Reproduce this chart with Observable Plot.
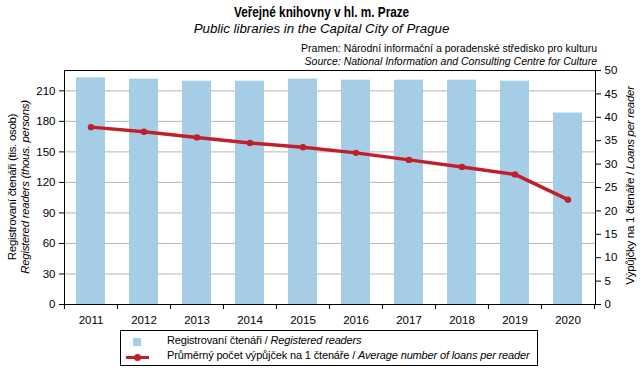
<!DOCTYPE html>
<html>
<head>
<meta charset="utf-8">
<script src="https://cdn.jsdelivr.net/npm/d3@7"></script>
<script src="https://cdn.jsdelivr.net/npm/@observablehq/plot@0.6"></script>
<style>
  body { margin: 0; background: #fff; }
  #wrap { position: relative; width: 643px; height: 375px; font-family: "Liberation Sans", Arial, sans-serif; color: #000; }
  #wrap .t { position: absolute; white-space: nowrap; }
  .rot { position: absolute; white-space: nowrap; transform-origin: center center; }
</style>
</head>
<body>
<div id="wrap"></div>
<script>
const years = [2011, 2012, 2013, 2014, 2015, 2016, 2017, 2018, 2019, 2020];
const readers = [222.8, 221.5, 219.5, 219.5, 221.5, 220.5, 220.5, 220.5, 219.5, 188.2];
const loans = [37.9, 36.9, 35.7, 34.5, 33.6, 32.4, 30.9, 29.4, 27.8, 22.4];
const leftTicks = [0, 30, 60, 90, 120, 150, 180, 210];
const rightTicks = [0, 5, 10, 15, 20, 25, 30, 35, 40, 45, 50];

const leftMax = 230, rightMax = 50;
const k = leftMax / rightMax;
const data = years.map((y, i) => ({year: String(y), readers: readers[i], loans: loans[i]}));

const W = 643, H = 375, mL = 64, mR = 48, mT = 70, mB = 71;
const step = (W - mL - mR) / years.length;

const chart = Plot.plot({
  width: W, height: H,
  marginLeft: mL, marginRight: mR, marginTop: mT, marginBottom: mB,
  style: {fontFamily: '"Liberation Sans", Arial, sans-serif', fontSize: "11px", color: "#000", background: "transparent", overflow: "visible"},
  x: {type: "band", domain: years.map(String), paddingInner: 0.45, paddingOuter: 0.225},
  y: {domain: [0, leftMax]},
  marks: [
    Plot.gridY(leftTicks.filter(d => d > 0), {stroke: "#b4b4b4", strokeOpacity: 1}),
    Plot.barY(data, {x: "year", y: "readers", fill: "#a6cde6"}),
    Plot.lineY(data, {x: "year", y: d => d.loans * k, stroke: "#c0202a", strokeWidth: 3.5}),
    Plot.dot(data, {x: "year", y: d => d.loans * k, fill: "#c0202a", r: 3.2}),
    Plot.frame({stroke: "#000"}),
    Plot.axisY(leftTicks, {anchor: "left", tickSize: 5, tickPadding: 4, label: null, fontSize: 11.5}),
    Plot.axisY(rightTicks.map(d => d * k), {anchor: "right", tickSize: 5, tickPadding: 4, label: null, fontSize: 11.5, tickFormat: d => String(Math.round(d / k))}),
    Plot.axisX(years.map(String), {tickSize: 0, tickPadding: 11, label: null, fontSize: 11.5}),
    Plot.ruleX(years.map(String), {x: d => d, y1: 0, y2: 0, insetBottom: -5, dx: -step / 2, stroke: "#000"}),
    Plot.ruleX([years[years.length - 1]].map(String), {x: d => d, y1: 0, y2: 0, insetBottom: -5, dx: step / 2, stroke: "#000"})
  ]
});

const wrap = document.getElementById("wrap");
chart.style.position = "absolute";
chart.style.left = "0px";
chart.style.top = "0px";
wrap.appendChild(chart);

function addText(html, css) {
  const d = document.createElement("div");
  d.className = "t";
  d.innerHTML = html;
  Object.assign(d.style, css);
  wrap.appendChild(d);
  return d;
}

// Titles
addText("Veřejné knihovny v hl. m. Praze", {left: "0px", width: "643px", textAlign: "center", top: "4px", fontSize: "14px", fontWeight: "bold", transform: "scaleX(0.84)", transformOrigin: "322px 50%"});
addText("<i>Public libraries in the Capital City of Prague</i>", {left: "0px", width: "643px", textAlign: "center", top: "21px", fontSize: "13.3px"});
addText("Pramen: Národní informační a poradenské středisko pro kulturu", {right: "46px", top: "42px", fontSize: "10.5px", textAlign: "right"});
addText("<i>Source: National Information and Consulting Centre for Culture</i>", {right: "46px", top: "55px", fontSize: "10.5px", textAlign: "right"});

// Rotated axis labels
function addRot(html, cx, cy, css) {
  const d = document.createElement("div");
  d.className = "rot";
  d.innerHTML = html;
  Object.assign(d.style, {fontSize: "11.5px", lineHeight: "13px", textAlign: "center", letterSpacing: "-0.3px"}, css || {});
  wrap.appendChild(d);
  const r = d.getBoundingClientRect();
  d.style.left = (cx - r.width / 2) + "px";
  d.style.top = (cy - r.height / 2) + "px";
  d.style.transform = "rotate(-90deg)";
  return d;
}
addRot("Registrovaní čtenáři (tis. osob)<br><i>Registered readers (thous. persons)</i>", 19, 187);
addRot("Výpůjčky na 1 čtenáře / <i>Loans per reader</i>", 630, 185);

// Legend
const leg = document.createElement("div");
Object.assign(leg.style, {position: "absolute", left: "120px", top: "330px", width: "418px", height: "36px", border: "1px solid #000", boxSizing: "border-box"});
wrap.appendChild(leg);
const sq = document.createElement("div");
Object.assign(sq.style, {position: "absolute", left: "133px", top: "338px", width: "8px", height: "8px", background: "#a6cde6"});
wrap.appendChild(sq);
const ln = document.createElement("div");
Object.assign(ln.style, {position: "absolute", left: "126px", top: "356px", width: "23px", height: "3px", background: "#c0202a"});
wrap.appendChild(ln);
const dt = document.createElement("div");
Object.assign(dt.style, {position: "absolute", left: "134px", top: "354px", width: "7px", height: "7px", borderRadius: "50%", background: "#c0202a"});
wrap.appendChild(dt);
addText("Registrovaní čtenáři / <i>Registered readers</i>", {left: "167px", top: "334px", fontSize: "11px", letterSpacing: "-0.15px"});
addText("Průměrný počet výpůjček na 1 čtenáře / <i>Average number of loans per reader</i>", {left: "167px", top: "349px", fontSize: "11px", letterSpacing: "-0.15px"});
</script>
</body>
</html>
